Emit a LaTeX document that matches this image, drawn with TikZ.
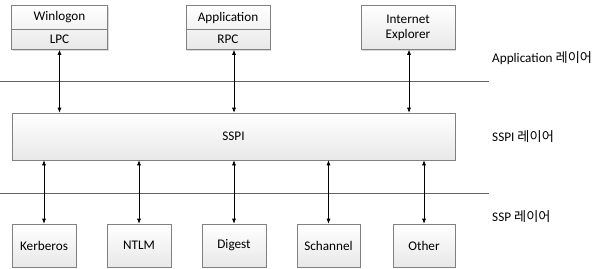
\documentclass[tikz,border=0pt]{standalone}
\usepackage{fontspec}
\setmainfont{Carlito}
\newfontfamily\krfont{Noto Sans CJK KR}
\usetikzlibrary{arrows.meta,shadows}
\begin{document}
\begin{tikzpicture}[x=1pt,y=-1pt,
  txt/.style={inner sep=0pt,font=\fontsize{13.2}{15}\selectfont},
  box/.style={draw=black!50,line width=0.6pt,top color=white,bottom color=black!9,
    drop shadow={shadow xshift=1.2pt,shadow yshift=-1.2pt,fill=black!25,opacity=0.6},
    inner sep=0pt,font=\fontsize{13.2}{15}\selectfont},
  layerline/.style={draw=black!60,line width=0.6pt},
  conn/.style={draw=black,line width=0.6pt,{Latex[length=5pt,width=4pt]}-{Latex[length=5pt,width=4pt]}},
  layerlabel/.style={anchor=west,inner sep=0pt,font=\fontsize{13.2}{15}\selectfont}]
\useasboundingbox (0,0) rectangle (597,268);
% top boxes
\node[box,minimum width=96pt,minimum height=44pt] (win) at (59.5,27.5) {};
\node[txt] (wint) at (59.5,17.5) {Winlogon};
\node[txt] (lpc) at (59.5,39) {LPC};
\draw[draw=black!50,line width=0.6pt] (win.west |- 0,29) -- (win.east |- 0,29);
\node[box,minimum width=84pt,minimum height=44pt] (app) at (228,27.5) {};
\node[txt] (appt) at (228,17.5) {Application};
\node[txt] (rpc) at (228,39) {RPC};
\draw[draw=black!50,line width=0.6pt] (app.west |- 0,29) -- (app.east |- 0,29);
\node[box,minimum width=94pt,minimum height=44pt,align=center] (ie) at (408,27.5) {Internet\\Explorer};
% layer lines
\coordinate (l1a) at (0,81);
\coordinate (l1b) at (489,81);
\draw[layerline] (l1a) -- (l1b);
\coordinate (l2a) at (0,193);
\coordinate (l2b) at (489,193);
\draw[layerline] (l2a) -- (l2b);
% SSPI
\node[box,minimum width=443pt,minimum height=47pt] (sspi) at (233.5,136.5) {SSPI};
% bottom boxes
\node[box,minimum width=64pt,minimum height=43pt] (ker) at (44,245.5) {Kerberos};
\node[box,minimum width=64pt,minimum height=43pt] (ntlm) at (139,245.5) {NTLM};
\node[box,minimum width=64pt,minimum height=43pt] (dig) at (234,245.5) {Digest};
\node[box,minimum width=63pt,minimum height=43pt] (sch) at (328.5,245.5) {Schannel};
\node[box,minimum width=62pt,minimum height=43pt] (oth) at (424,245.5) {Other};
% connectors
\draw[conn] (win.south) -- (win.south |- sspi.north);
\draw[conn] (app.south -| 234,0) -- (sspi.north -| 234,0);
\draw[conn] (ie.south -| 409,0) -- (sspi.north -| 409,0);
\draw[conn] (sspi.south -| ker) -- (ker.north);
\draw[conn] (sspi.south -| ntlm) -- (ntlm.north);
\draw[conn] (sspi.south -| dig) -- (dig.north);
\draw[conn] (sspi.south -| sch) -- (sch.north);
\draw[conn] (sspi.south -| oth) -- (oth.north);
% labels
\node[layerlabel] (lapp) at (492,58) {Application {\krfont 레이어}};
\node[layerlabel] (lsspi) at (492,137) {SSPI {\krfont 레이어}};
\node[layerlabel] (lssp) at (492,217) {SSP {\krfont 레이어}};
\end{tikzpicture}
\end{document}
